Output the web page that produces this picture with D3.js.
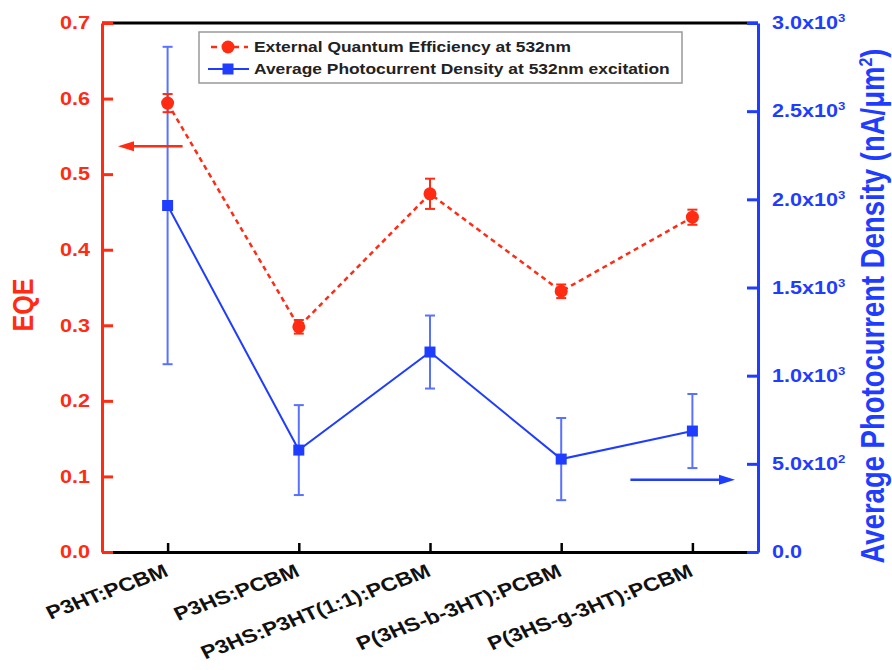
<!DOCTYPE html>
<html>
<head>
<meta charset="utf-8">
<script src="https://cdn.jsdelivr.net/npm/d3@7"></script>
<style>
  body { margin: 0; background: #fff; }
  text { font-family: "Liberation Sans", Arial, sans-serif; font-weight: bold; }
</style>
</head>
<body>
<script>
const categories = ['P3HT:PCBM', 'P3HS:PCBM', 'P3HS:P3HT(1:1):PCBM', 'P(3HS-b-3HT):PCBM', 'P(3HS-g-3HT):PCBM']
const eqe = [0.594, 0.298, 0.474, 0.345, 0.443]
const eqeErr = [0.012, 0.009, 0.02, 0.009, 0.01]
const current = [1965, 578, 1134, 527, 686]
const currentErr = [900, 255, 207, 233, 210]
const eqeTicks = [0, 0.1, 0.2, 0.3, 0.4, 0.5, 0.6, 0.7]
const currentTicks = [0, 500, 1000, 1500, 2000, 2500, 3000]
const legendLabels = ['External Quantum Efficiency at 532nm', 'Average Photocurrent Density at 532nm excitation']

const width = 892
const height = 670
const margin = { top: 23, right: 134, bottom: 118, left: 102 }
const w = width - margin.left - margin.right
const h = height - margin.top - margin.bottom
const sx = 1.2 // the source picture is stretched horizontally
const red = '#ff2b12'
const blue = '#1f3dff'

const svg = d3.select('body').append('svg')
  .attr('width', width)
  .attr('height', height)
const g = svg.append('g')
  .attr('transform', `translate(${margin.left},${margin.top})`)

const x = d3.scalePoint().domain(categories).range([0, w]).padding(0.5)
const yL = d3.scaleLinear().domain([0, 0.7]).range([h, 0])
const yR = d3.scaleLinear().domain([0, 3000]).range([h, 0])

// top frame
g.append('line').attr('x1', 0).attr('x2', w).attr('y1', 0).attr('y2', 0)
  .attr('stroke', '#000').attr('stroke-width', 3)

// bottom axis
const xAxis = g.append('g')
  .attr('transform', `translate(0,${h})`)
  .call(d3.axisBottom(x).tickSizeInner(-9).tickSizeOuter(0).tickFormat(''))
xAxis.select('.domain').attr('stroke', '#000').attr('stroke-width', 3)
xAxis.selectAll('.tick line').attr('stroke', '#000').attr('stroke-width', 2.5)
g.selectAll('.xlab')
  .data(categories)
  .enter().append('text')
  .attr('class', 'xlab')
  .attr('transform', d => `translate(${x(d) + 2},${h + 23.5}) scale(${sx},1) rotate(-24)`)
  .attr('text-anchor', 'end')
  .attr('font-size', 19)
  .attr('fill', '#111')
  .text(d => d)

// left axis
const left = g.append('g')
  .call(d3.axisLeft(yL).tickValues(eqeTicks).tickSizeInner(-11).tickSizeOuter(0).tickPadding(12)
    .tickFormat(d3.format('.1f')))
left.select('.domain').attr('stroke', red).attr('stroke-width', 3)
left.selectAll('.tick line').attr('stroke', red).attr('stroke-width', 3)
left.selectAll('.tick text')
  .attr('fill', red).attr('font-size', 18)
  .attr('x', -12 / sx)
  .attr('transform', `scale(${sx},1)`)

// right axis
const right = g.append('g')
  .attr('transform', `translate(${w},0)`)
  .call(d3.axisRight(yR).tickValues(currentTicks).tickSizeInner(-11).tickSizeOuter(0).tickPadding(14)
    .tickFormat(''))
right.select('.domain').attr('stroke', blue).attr('stroke-width', 3)
right.selectAll('.tick line').attr('stroke', blue).attr('stroke-width', 3)
right.selectAll('.tick text').each(function (d) {
  const t = d3.select(this)
    .attr('fill', blue).attr('font-size', 18)
    .attr('x', 14 / sx)
    .attr('transform', `scale(${sx},1)`)
  if (d === 0) { t.text('0.0'); return }
  const e = Math.floor(Math.log10(d))
  t.append('tspan').text((d / Math.pow(10, e)).toFixed(1) + 'x10')
  t.append('tspan').attr('dy', -7).attr('font-size', 11).text(e)
})

// axis titles
g.append('text')
  .attr('transform', `translate(${33 - margin.left},${305 - margin.top}) scale(${sx},1) rotate(-90)`)
  .attr('text-anchor', 'middle')
  .attr('font-size', 25)
  .attr('fill', red)
  .text('EQE')
const rt = g.append('text')
  .attr('transform', `translate(${884 - margin.left},${306 - margin.top}) scale(${sx},1) rotate(-90)`)
  .attr('text-anchor', 'middle')
  .attr('font-size', 27.5)
  .attr('fill', blue)
rt.append('tspan').text('Average Photocurrent Density (nA/\u03bcm')
rt.append('tspan').attr('dy', -10).attr('font-size', 16).text('2')
rt.append('tspan').attr('dy', 10).text(')')

// EQE series
const eqeData = categories.map((c, i) => ({ c, v: eqe[i], e: eqeErr[i] }))
const curData = categories.map((c, i) => ({ c, v: current[i], e: currentErr[i] }))

function errorBars (data, y, color, width) {
  const eb = g.append('g').attr('stroke', color).attr('stroke-width', width)
  eb.selectAll('.v').data(data).enter().append('line')
    .attr('x1', d => x(d.c)).attr('x2', d => x(d.c))
    .attr('y1', d => y(d.v - d.e)).attr('y2', d => y(d.v + d.e))
  eb.selectAll('.lo').data(data).enter().append('line')
    .attr('x1', d => x(d.c) - 5).attr('x2', d => x(d.c) + 5)
    .attr('y1', d => y(d.v - d.e)).attr('y2', d => y(d.v - d.e))
  eb.selectAll('.hi').data(data).enter().append('line')
    .attr('x1', d => x(d.c) - 5).attr('x2', d => x(d.c) + 5)
    .attr('y1', d => y(d.v + d.e)).attr('y2', d => y(d.v + d.e))
}

errorBars(curData, yR, '#5872ff', 2)
errorBars(eqeData, yL, red, 2)

g.append('path')
  .datum(eqeData)
  .attr('fill', 'none')
  .attr('stroke', red)
  .attr('stroke-width', 2.5)
  .attr('stroke-dasharray', '5,4')
  .attr('d', d3.line().x(d => x(d.c)).y(d => yL(d.v)))
g.selectAll('.dot').data(eqeData).enter().append('circle')
  .attr('cx', d => x(d.c)).attr('cy', d => yL(d.v)).attr('r', 6.5)
  .attr('fill', red)

g.append('path')
  .datum(curData)
  .attr('fill', 'none')
  .attr('stroke', blue)
  .attr('stroke-width', 2)
  .attr('d', d3.line().x(d => x(d.c)).y(d => yR(d.v)))
g.selectAll('.sq').data(curData).enter().append('rect')
  .attr('x', d => x(d.c) - 5.5).attr('y', d => yR(d.v) - 5.5)
  .attr('width', 11).attr('height', 11)
  .attr('fill', blue)

// arrows pointing to the axes
function arrow (x1, x2, y, color) {
  const dir = Math.sign(x2 - x1)
  g.append('line').attr('x1', x1).attr('x2', x2 - dir * 10).attr('y1', y).attr('y2', y)
    .attr('stroke', color).attr('stroke-width', 2.5)
  g.append('path')
    .attr('d', `M${x2},${y}L${x2 - dir * 16},${y - 5}L${x2 - dir * 16},${y + 5}Z`)
    .attr('fill', color)
}
arrow(x(categories[0]) + 15, 16, yL(0.537), red)
arrow(x(categories[4]) - 62, w - 23, yR(410), blue)

// legend
const lg = g.append('g').attr('transform', 'translate(97,9)')
lg.append('rect').attr('width', 483).attr('height', 51)
  .attr('fill', '#fff').attr('stroke', '#999').attr('stroke-width', 1.5)
const r1 = lg.append('g').attr('transform', 'translate(0,15)')
r1.append('line').attr('x1', 9).attr('x2', 49).attr('stroke', red).attr('stroke-width', 2.5).attr('stroke-dasharray', '6,5').attr('stroke-dashoffset', -3)
r1.append('circle').attr('cx', 29).attr('r', 6.5).attr('fill', red)
const r2 = lg.append('g').attr('transform', 'translate(0,37)')
r2.append('line').attr('x1', 9).attr('x2', 50).attr('stroke', blue).attr('stroke-width', 2)
r2.append('rect').attr('x', 23.5).attr('y', -5.5).attr('width', 11).attr('height', 11).attr('fill', blue)
lg.selectAll('.lt').data(legendLabels).enter().append('text')
  .attr('transform', (d, i) => `translate(55,${15 + i * 22}) scale(${sx},1)`)
  .attr('dy', '0.35em')
  .attr('font-size', 14.5)
  .attr('fill', '#222')
  .text(d => d)
</script>
</body>
</html>
